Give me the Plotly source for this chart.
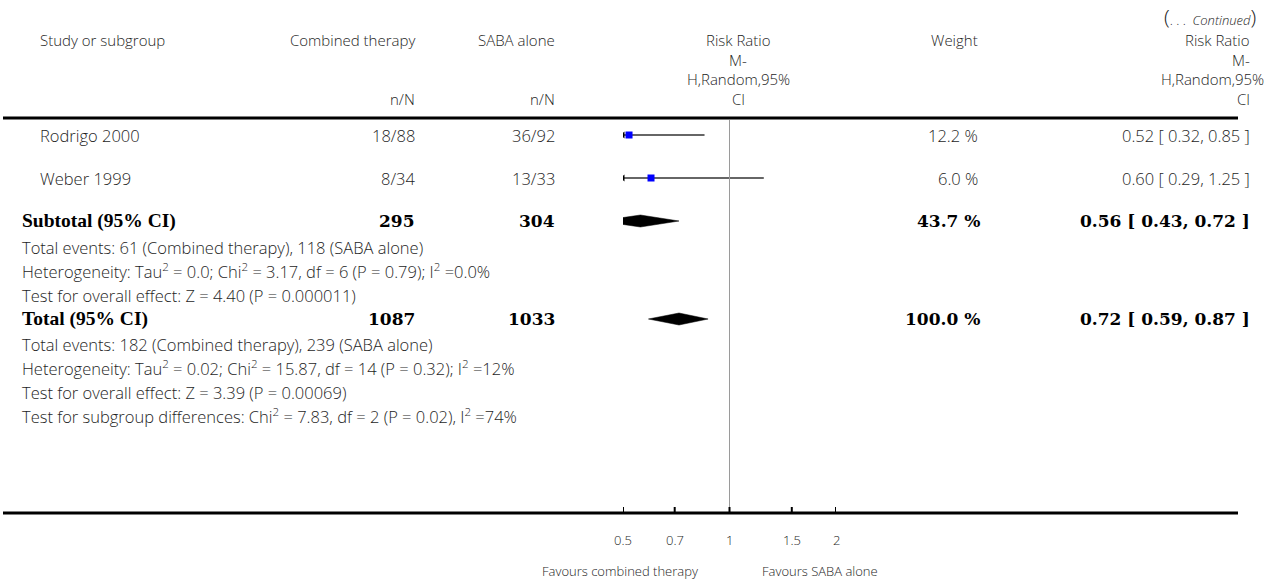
import math
import plotly.graph_objects as go

W, H = 1268, 584

# ---- data -------------------------------------------------------------
studies = ["Rodrigo 2000", "Weber 1999"]
combined_nN = ["18/88", "8/34"]
saba_nN = ["36/92", "13/33"]
rr = [0.52, 0.60]
rr_lo = [0.32, 0.29]
rr_hi = [0.85, 1.25]
weights = ["12.2 %", "6.0 %"]

pooled_labels = ["Subtotal (95% CI)", "Total (95% CI)"]
pooled_combined_N = ["295", "1087"]
pooled_saba_N = ["304", "1033"]
pooled_rr = [0.56, 0.72]
pooled_lo = [0.43, 0.59]
pooled_hi = [0.72, 0.87]
pooled_weight = ["43.7 %", "100.0 %"]

subtotal_notes = [
    "Total events: 61 (Combined therapy), 118 (SABA alone)",
    "Heterogeneity: Tau<sup>2</sup> = 0.0; Chi<sup>2</sup> = 3.17, df = 6 (P = 0.79); I<sup>2</sup> =0.0%",
    "Test for overall effect: Z = 4.40 (P = 0.000011)",
]
total_notes = [
    "Total events: 182 (Combined therapy), 239 (SABA alone)",
    "Heterogeneity: Tau<sup>2</sup> = 0.02; Chi<sup>2</sup> = 15.87, df = 14 (P = 0.32); I<sup>2</sup> =12%",
    "Test for overall effect: Z = 3.39 (P = 0.00069)",
    "Test for subgroup differences: Chi<sup>2</sup> = 7.83, df = 2 (P = 0.02), I<sup>2</sup> =74%",
]

tick_vals = [0.5, 0.7, 1, 1.5, 2]
tick_text = ["0.5", "0.7", "1", "1.5", "2"]
axis_min, axis_max = 0.5, 2.0

# ---- layout constants (pixels) ----------------------------------------
SANS = "Open Sans"
SERIF = "Liberation Serif"
SERIF_NUM = "DejaVu Serif"
TXT = "#1e1e1e"
FS = 16.5
FS_HDR = 15
FS_BOLD = 19.5
FS_BOLD_NUM = 17
FS_AXIS = 13

plot_x0, plot_x1 = 623, 836          # forest-plot column
x_name = 20
x_study = 38
x_comb = 417
x_saba = 557
x_rr_hdr = 738
x_weight = 980
x_ci = 1252

y_hdr = [40, 59.5, 79, 98.5]
y_rule = 118
y_study = [135, 178]
y_sub = 221
y_sub_notes = [247, 271, 295]
y_tot = 319
y_tot_notes = [344, 368, 392, 416]
y_axis = 513

fig = go.Figure()


def px(x):
    return x / W


def text(x, y, s, anchor="left", size=FS, family=SANS, bold=False, color=TXT):
    fig.add_annotation(
        x=px(x), y=y, xref="paper", yref="y", text=s, showarrow=False,
        xanchor=anchor, yanchor="middle",
        font=dict(family=family, size=size, color=color,
                  weight="bold" if bold else 300),
    )


# ---- headers ---------------------------------------------------------
text(1258, 17, "(<span style='font-size:13px'>. . .  <i>Continued</i></span>)",
     anchor="right", size=21)
text(x_study, y_hdr[0], "Study or subgroup", size=FS_HDR)
text(x_comb, y_hdr[0], "Combined therapy", anchor="right", size=FS_HDR)
text(x_saba, y_hdr[0], "SABA alone", anchor="right", size=FS_HDR)
text(x_comb, y_hdr[3], "n/N", anchor="right", size=FS_HDR)
text(x_saba, y_hdr[3], "n/N", anchor="right", size=FS_HDR)
for y, s in zip(y_hdr, ["Risk Ratio", "M-", "H,Random,95%", "CI"]):
    text(x_rr_hdr, y, s, anchor="center", size=FS_HDR)
text(x_weight, y_hdr[0], "Weight", anchor="right", size=FS_HDR)
for y, s in zip(y_hdr, ["Risk Ratio", "M-", "H,Random,95%", "CI"]):
    text(x_ci if s != "H,Random,95%" else 1266, y, s, anchor="right", size=FS_HDR)

# ---- study rows --------------------------------------------------------
for i, name in enumerate(studies):
    y = y_study[i]
    text(x_study, y, name)
    text(x_comb, y, combined_nN[i], anchor="right")
    text(x_saba, y, saba_nN[i], anchor="right")
    text(x_weight, y, weights[i], anchor="right")
    text(x_ci, y, f"{rr[i]:.2f} [ {rr_lo[i]:.2f}, {rr_hi[i]:.2f} ]", anchor="right")

    lo = max(rr_lo[i], axis_min)
    hi = min(rr_hi[i], axis_max)
    fig.add_trace(go.Scatter(
        x=[lo, hi], y=[y, y], mode="lines",
        line=dict(color="#333333", width=1.3), hoverinfo="skip", showlegend=False))
    if rr_lo[i] < axis_min:
        fig.add_trace(go.Scatter(
            x=[axis_min], y=[y], mode="markers",
            marker=dict(symbol="triangle-left", size=6, color="#000000"),
            hoverinfo="skip", showlegend=False))
    fig.add_trace(go.Scatter(
        x=[rr[i]], y=[y], mode="markers",
        marker=dict(symbol="square", size=7, color="#0000ff",
                    line=dict(width=0)),
        hoverinfo="skip", showlegend=False))


# ---- pooled rows ------------------------------------------------------
def diamond(est, lo, hi, yc, h=6):
    """Diamond polygon in data space, cut flat where it leaves the axis."""
    le, ll, lh = math.log10(est), math.log10(lo), math.log10(hi)
    amin, amax = math.log10(axis_min), math.log10(axis_max)
    xs, ys = [], []
    if ll < amin:
        t = (amin - ll) / (le - ll)
        xs += [axis_min, axis_min]
        ys += [yc + h * t, yc - h * t]
    else:
        xs += [lo]
        ys += [yc]
    xs += [est]
    ys += [yc - h]
    if lh > amax:
        t = (lh - amax) / (lh - le)
        xs += [axis_max, axis_max]
        ys += [yc - h * t, yc + h * t]
    else:
        xs += [hi]
        ys += [yc]
    xs += [est, xs[0]]
    ys += [yc + h, ys[0]]
    return xs, ys


for i, lab in enumerate(pooled_labels):
    y = [y_sub, y_tot][i]
    text(x_name, y, lab, family=SERIF, size=FS_BOLD, bold=True, color="#000")
    text(x_comb, y, pooled_combined_N[i], anchor="right", family=SERIF_NUM,
         size=FS_BOLD_NUM, bold=True, color="#000")
    text(x_saba, y, pooled_saba_N[i], anchor="right", family=SERIF_NUM,
         size=FS_BOLD_NUM, bold=True, color="#000")
    text(x_weight + 2, y, pooled_weight[i], anchor="right", family=SERIF_NUM,
         size=FS_BOLD_NUM, bold=True, color="#000")
    text(x_ci, y, f"{pooled_rr[i]:.2f} [ {pooled_lo[i]:.2f}, {pooled_hi[i]:.2f} ]",
         anchor="right", family=SERIF_NUM, size=FS_BOLD_NUM, bold=True, color="#000")
    xs, ys = diamond(pooled_rr[i], pooled_lo[i], pooled_hi[i], y)
    fig.add_trace(go.Scatter(
        x=xs, y=ys, mode="lines", fill="toself", fillcolor="#000000",
        line=dict(color="#000000", width=0.5), hoverinfo="skip", showlegend=False))

for y, s in zip(y_sub_notes, subtotal_notes):
    text(x_name, y, s)
for y, s in zip(y_tot_notes, total_notes):
    text(x_name, y, s)

# ---- rules and reference line -------------------------------------------
fig.add_shape(type="line", xref="paper", yref="y", x0=px(3), x1=px(1238),
              y0=y_rule, y1=y_rule, line=dict(color="#000", width=3))
fig.add_shape(type="line", xref="paper", yref="y", x0=px(3), x1=px(1238),
              y0=y_axis, y1=y_axis, line=dict(color="#000", width=3))
fig.add_shape(type="line", xref="x", yref="y", x0=1, x1=1,
              y0=y_rule + 2, y1=y_axis, line=dict(color="#9a9a9a", width=1))
for v in tick_vals:
    fig.add_shape(type="line", xref="x", yref="y", x0=v, x1=v,
                  y0=y_axis - 6, y1=y_axis, line=dict(color="#000", width=2))

# tick labels and direction captions under the axis
for v, s in zip(tick_vals, tick_text):
    fig.add_annotation(x=math.log10(v), y=540, xref="x", yref="y", text=s,
                       showarrow=False, xanchor="center", yanchor="middle",
                       font=dict(family=SANS, size=FS_AXIS, color=TXT, weight=300))
text(700, 571, "Favours combined therapy", anchor="right", size=FS_AXIS)
text(760, 571, "Favours SABA alone", anchor="left", size=FS_AXIS)

fig.update_layout(
    width=W, height=H,
    margin=dict(l=0, r=0, t=0, b=0),
    paper_bgcolor="white", plot_bgcolor="white",
    xaxis=dict(type="log", domain=[px(plot_x0), px(plot_x1)],
               range=[math.log10(axis_min), math.log10(axis_max)],
               showticklabels=False, ticks="",
               showgrid=False, zeroline=False, showline=False),
    yaxis=dict(range=[H, 0], domain=[0, 1], visible=False, fixedrange=True),
    showlegend=False,
)

fig.write_html("out.html")
